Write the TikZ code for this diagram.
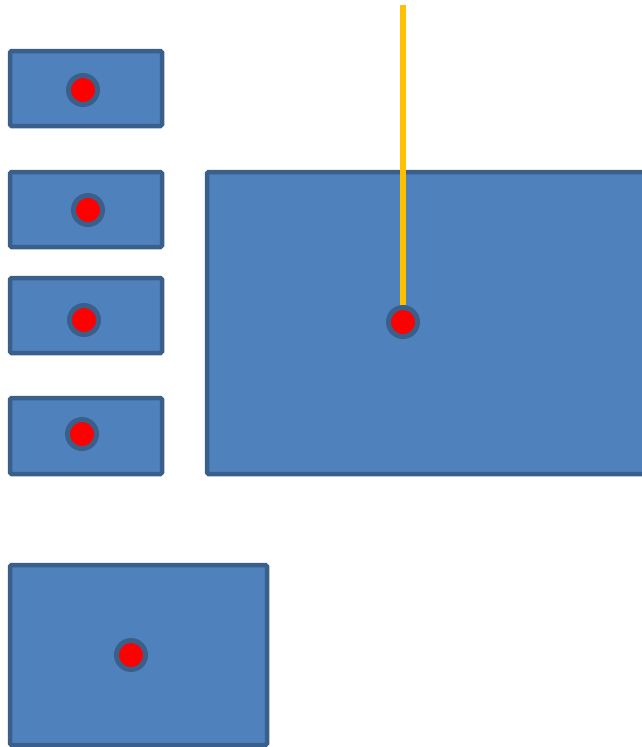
\documentclass[tikz,border=0pt]{standalone}
\usetikzlibrary{positioning}
\definecolor{boxfill}{HTML}{4F81BD}
\definecolor{boxline}{HTML}{3A5F8B}
\definecolor{dotred}{HTML}{FF0000}
\definecolor{wire}{HTML}{FFC000}
\tikzset{
  panel/.style={draw=boxline, fill=boxfill, line width=4.5pt, rounded corners=1.5pt},
  pin/.style={circle, draw=boxline, fill=dotred, line width=5pt, minimum size=29pt, inner sep=0pt},
  wireline/.style={draw=wire, line width=6pt}
}
\begin{document}
\begin{tikzpicture}[x=1pt,y=-1pt]
\useasboundingbox (0,0) rectangle (642,747);
\clip (0,0) rectangle (642,747);
\draw[panel] (10,51) rectangle (162,126);
\draw[panel] (10,172) rectangle (162,247);
\draw[panel] (10,278) rectangle (162,353);
\draw[panel] (10,398) rectangle (162,474);
\draw[panel] (207,172) rectangle (700,474);
\draw[panel] (10,565) rectangle (267,745);
\node[pin] (p1) at (83,90) {};
\node[pin] (p2) at (88,210) {};
\node[pin] (p3) at (84,320) {};
\node[pin] (p4) at (82,434) {};
\node[pin] (p5) at (131,655) {};
\node[pin] (pbig) at (403,322) {};
\coordinate (wtop) at (403,5);
\draw[wireline] (wtop) -- (pbig.north);
\end{tikzpicture}
\end{document}
